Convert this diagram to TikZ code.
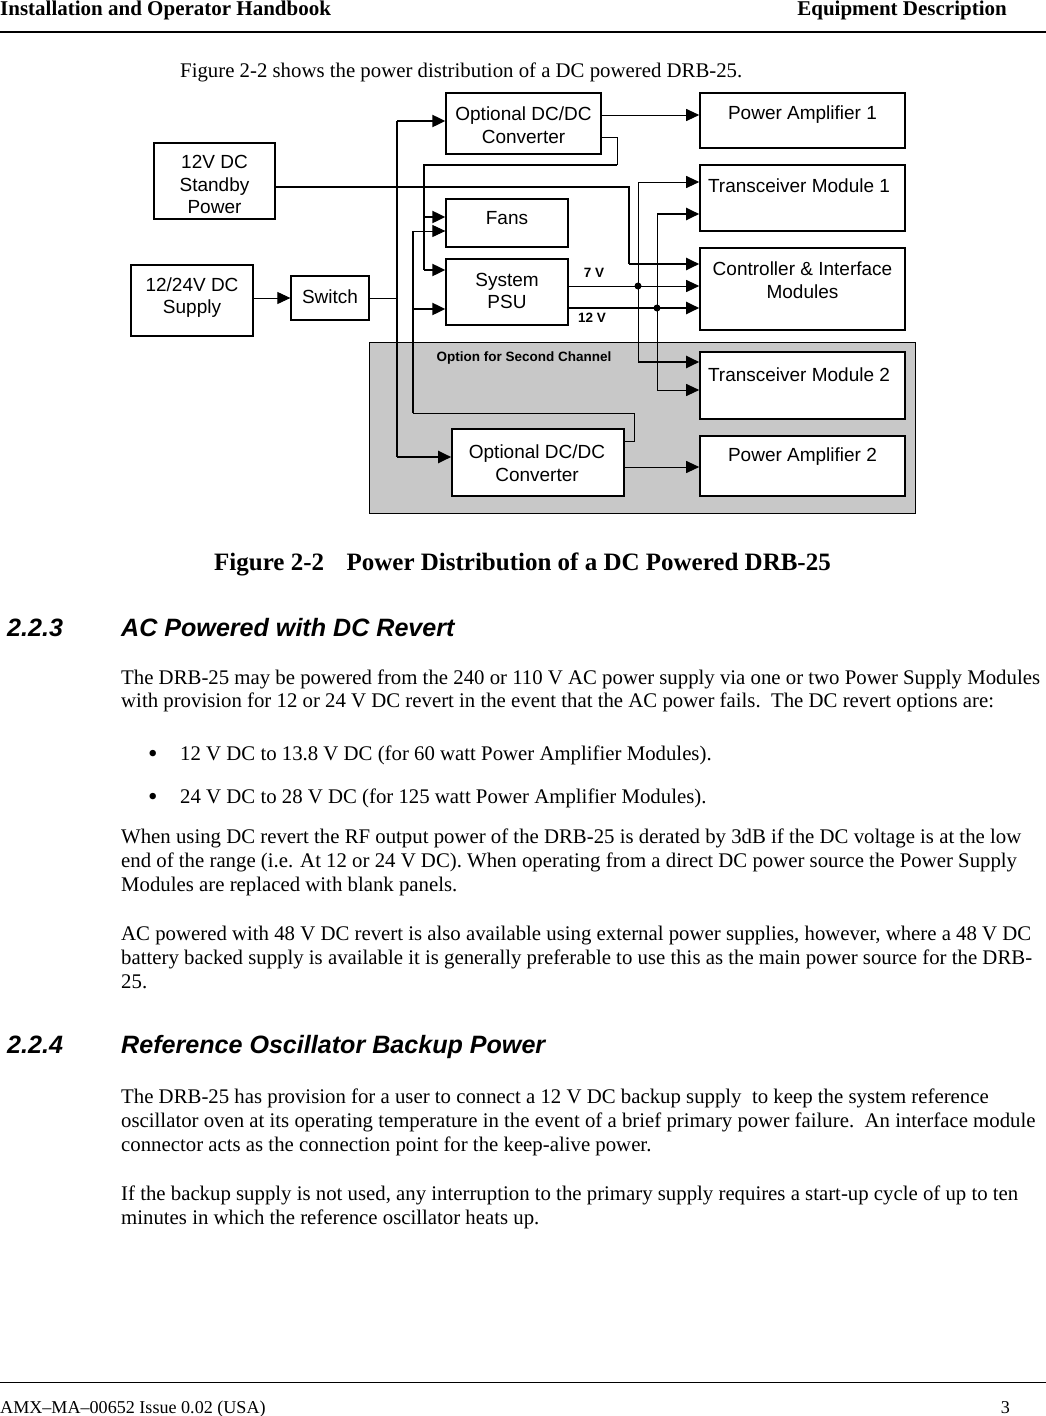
\documentclass[tikz,border=0pt]{standalone}
\usepackage{fontspec}
\setmainfont{Liberation Serif}
\newfontfamily\arial{Liberation Sans}
\usetikzlibrary{arrows.meta}
\definecolor{optgrey}{RGB}{200,200,200}
\begin{document}
\begin{tikzpicture}[x=1pt,y=-1pt,
  box/.style={draw, line width=1.3pt, fill=white, inner sep=0pt},
  lbl/.style={font=\arial\fontsize{19}{22.5}\selectfont, align=center, inner sep=0pt},
  small/.style={font=\arial\bfseries\fontsize{13.5}{16}\selectfont, inner sep=0pt},
  arr/.style={-{Triangle[length=13pt,width=12pt]}},
  thk/.style={line width=2pt},
  thn/.style={line width=1pt},
  dot/.style={circle, fill=black, inner sep=0pt, minimum size=7pt},
  body/.style={anchor=base west, inner sep=0pt, font=\fontsize{20.8}{23.6}\selectfont},
  bul/.style={anchor=base west, inner sep=0pt, font=\fontsize{27}{23.6}\selectfont},
  head/.style={anchor=base west, inner sep=0pt, font=\arial\bfseries\itshape\fontsize{25.1}{28}\selectfont},
  pagehead/.style={inner sep=0pt, font=\bfseries\fontsize{21}{23.6}\selectfont},
  foot/.style={inner sep=0pt, font=\fontsize{18.1}{21}\selectfont}
]
\useasboundingbox (0,0) rectangle (1046,1416);
\fill[white] (0,0) rectangle (1046,1416);

% page header
\node[pagehead, anchor=base west] (hl) at (0,15) {Installation and Operator Handbook};
\node[pagehead, anchor=base east] (hr) at (1007,15) {Equipment Description};
\draw[line width=2.2pt] (0,32) -- (1046,32);

\node[body] (intro) at (180,77) {Figure 2-2 shows the power distribution of a DC powered DRB-25.};

% ---------- diagram ----------
\node[draw, fill=optgrey, line width=1pt, minimum width=546pt, minimum height=171pt, inner sep=0pt] (opt) at (642,427.5) {};
\node[small] (optt) at (524,358) {Option for Second Channel};

\node[box] (conv1) at (523.5,123.5) [minimum width=155pt, minimum height=61pt] {};
\node[lbl] (conv1t) at (523.5,125) {Optional DC/DC\\Converter};
\node[box, line width=1.6pt] (pa1) at (802.5,120.5) [minimum width=205pt, minimum height=55pt] {};
\node[lbl] (pa1t) at (802.5,115) {Power Amplifier 1};
\node[box] (sb) at (214.5,181) [minimum width=121pt, minimum height=76pt] {};
\node[lbl] (sbt) at (214.5,184.5) {12V DC\\Standby\\Power};
\node[box, line width=1.6pt] (tm1) at (802.5,198) [minimum width=205pt, minimum height=66pt] {};
\node[lbl] (tm1t) at (799,186) {Transceiver Module 1};
\node[box] (fans) at (507,223) [minimum width=122pt, minimum height=48pt] {};
\node[lbl] (fanst) at (507,218) {Fans};
\node[box] (psu) at (507,292) [minimum width=122pt, minimum height=66pt] {};
\node[lbl] (psut) at (507,291) {System\\PSU};
\node[box, line width=1.6pt] (ctl) at (802.5,289) [minimum width=205pt, minimum height=82pt] {};
\node[lbl] (ctlt) at (802.5,280) {Controller \& Interface\\Modules};
\node[box] (sup) at (192,300.5) [minimum width=122pt, minimum height=71pt] {};
\node[lbl] (supt) at (192,297.5) {12/24V DC\\Supply};
\node[box] (sw) at (330,298) [minimum width=78pt, minimum height=44pt] {};
\node[lbl] (swt) at (330,297) {Switch};
\node[box, line width=1.6pt] (tm2) at (802.5,385.5) [minimum width=205pt, minimum height=67pt] {};
\node[lbl] (tm2t) at (799,375) {Transceiver Module 2};
\node[box, line width=1.6pt] (conv2) at (538,462.5) [minimum width=172pt, minimum height=67pt] {};
\node[lbl] (conv2t) at (537,463) {Optional DC/DC\\Converter};
\node[box, line width=1.6pt] (pa2) at (802.5,466) [minimum width=205pt, minimum height=60pt] {};
\node[lbl] (pa2t) at (802.5,457) {Power Amplifier 2};

% supply -> switch
\draw[arr, thn] (sup.east |- sw.west) -- (sw.west);

% switch bus
\coordinate (vt) at (397,121);
\coordinate (vb) at (397,457);
\draw[thn] (sw.east) -- (sw.east -| vt);
\draw[line width=1.5pt] (vt) -- (vb);
\draw[arr, thk] (vt) -- (vt -| conv1.west);
\draw[arr, thk] (vb) -- (vb -| conv2.west);

% converter 1 -> PA 1
\coordinate (p1) at ([yshift=8.5pt]conv1.east);
\draw[arr, thn] (p1) -- (p1 -| pa1.west);

% converter 1 -> fans / PSU
\coordinate (q1) at ([yshift=-13.5pt]conv1.east);
\coordinate (q2) at (617,165);
\coordinate (q3) at (424,165);
\coordinate (q4) at (424,217);
\coordinate (q5) at (424,270);
\draw[thn] (q1) -| (q2);
\draw[line width=1.6pt] (q2) -- (q3) -- (q5);
\draw[arr, thk] (q4) -- (q4 -| fans.west);
\draw[arr, thk] (q5) -- (q5 -| psu.west);

% converter 2 -> fans / PSU
\coordinate (r1) at ([yshift=21.5pt]conv2.east);
\coordinate (r2) at (634,413);
\coordinate (r3) at (413,413);
\coordinate (r4) at (413,231);
\coordinate (r5) at (413,309);
\draw[thn] (r1) -| (r2) -- (r3);
\draw[line width=2pt] (r3) -- (r4);
\draw[arr, thn] (r4) -- (r4 -| fans.west);
\draw[arr, thk] (r5) -- (r5 -| psu.west);

% converter 2 -> PA 2
\coordinate (p2) at ([yshift=-4.5pt]conv2.east);
\draw[arr, thn] (p2) -- (p2 -| pa2.west);

% standby -> controller
\coordinate (s1) at ([yshift=-6pt]sb.east);
\coordinate (s2) at (629,264);
\draw[thk] (s1) -| (s2);
\draw[arr, thk] (s2) -- (s2 -| ctl.west);

% 7 V
\coordinate (v7) at (psu.east |- 0,286);
\draw[arr, thn] (v7) -- (v7 -| ctl.west);
\node[small] (l7) at (594,273) {7 V};
\coordinate (t7a) at (638,182);
\coordinate (t7b) at (638,362);
\draw[thn] (t7a) -- (t7b);
\draw[arr, thn] (t7a) -- (t7a -| tm1.west);
\draw[arr, thk] (t7b) -- (t7b -| tm2.west);
\node[dot] (d7) at (638,286) {};

% 12 V
\coordinate (v12) at (psu.east |- 0,308);
\draw[arr, thk] (v12) -- (v12 -| ctl.west);
\node[small] (l12) at (592,318) {12 V};
\coordinate (t12a) at (657,214);
\coordinate (t12b) at (657,390);
\draw[thn] (t12a) -- (t12b);
\draw[arr, thk] (t12a) -- (t12a -| tm1.west);
\draw[arr, thn] (t12b) -- (t12b -| tm2.west);
\node[dot] (d12) at (657,308) {};

% ---------- caption and text ----------
\node[anchor=base, inner sep=0pt, font=\bfseries\fontsize{25}{28}\selectfont] (cap) at (522.5,570) {Figure 2-2\hspace{0.9em}Power Distribution of a DC Powered DRB-25};

\node[head] (h1n) at (7,636) {2.2.3};
\node[head] (h1) at (121,636) {AC Powered with DC Revert};

\node[body] (b1) at (121,684) {The DRB-25 may be powered from the 240 or 110 V AC power supply via one or two Power Supply Modules};
\node[body] (b2) at (121,707) {with provision for 12 or 24 V DC revert in the event that the AC power fails.\ \ The DC revert options are:};
\node[bul] (bu1) at (148,762) {•};
\node[body] (b3) at (180,760) {12 V DC to 13.8 V DC (for 60 watt Power Amplifier Modules).};
\node[bul] (bu2) at (148,805) {•};
\node[body] (b4) at (180,803) {24 V DC to 28 V DC (for 125 watt Power Amplifier Modules).};
\node[body] (b5) at (121,843) {When using DC revert the RF output power of the DRB-25 is derated by 3dB if the DC voltage is at the low};
\node[body] (b6) at (121,867) {end of the range (i.e. At 12 or 24 V DC). When operating from a direct DC power source the Power Supply};
\node[body] (b7) at (121,891) {Modules are replaced with blank panels.};
\node[body] (b8) at (121,940) {AC powered with 48 V DC revert is also available using external power supplies, however, where a 48 V DC};
\node[body] (b9) at (121,964) {battery backed supply is available it is generally preferable to use this as the main power source for the DRB-};
\node[body] (b10) at (121,988) {25.};

\node[head] (h2n) at (7,1053) {2.2.4};
\node[head] (h2) at (121,1053) {Reference Oscillator Backup Power};

\node[body] (c1) at (121,1103) {The DRB-25 has provision for a user to connect a 12 V DC backup supply\ \ to keep the system reference};
\node[body] (c2) at (121,1127) {oscillator oven at its operating temperature in the event of a brief primary power failure.\ \ An interface module};
\node[body] (c3) at (121,1151) {connector acts as the connection point for the keep-alive power.};
\node[body] (c4) at (121,1200) {If the backup supply is not used, any interruption to the primary supply requires a start-up cycle of up to ten};
\node[body] (c5) at (121,1224) {minutes in which the reference oscillator heats up.};

% footer
\draw[line width=1pt] (0,1382) -- (1046,1382);
\node[foot, anchor=base west] (fl) at (0,1413) {AMX–MA–00652 Issue 0.02 (USA)};
\node[foot, anchor=base east] (fr) at (1010,1413) {3};
\end{tikzpicture}
\end{document}
